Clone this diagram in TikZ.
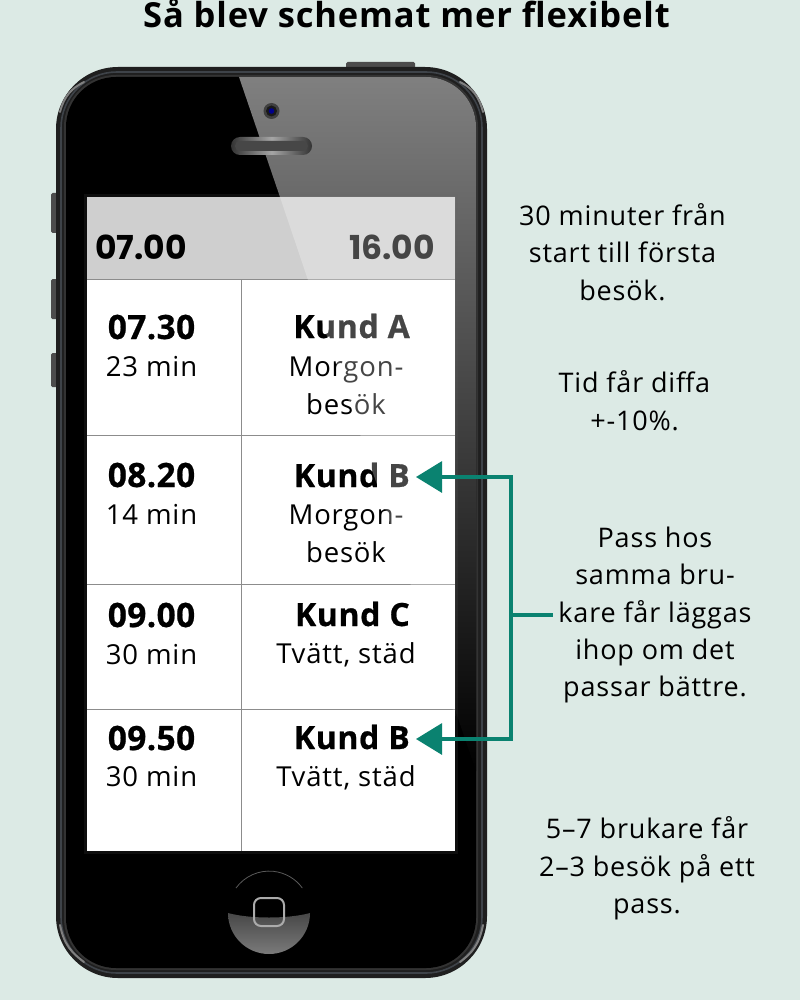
\documentclass[tikz,border=0pt]{standalone}
\usepackage{fontspec}
\setmainfont{Open Sans}
\newfontfamily\headfont{Poppins}
\usetikzlibrary{arrows.meta}
\definecolor{bgc}{HTML}{DCEAE5}
\definecolor{linkc}{HTML}{0A8270}
\definecolor{rimc}{HTML}{3E4349}
\tikzset{
 x=1pt,y=-1pt,
 note/.style={align=center,inner sep=0pt,font=\fontsize{27}{37.4}\selectfont\addfontfeature{LetterSpace=3}},
 cellb/.style={anchor=base,inner sep=0pt,font=\fontsize{33.5}{38}\selectfont\bfseries\addfontfeature{LetterSpace=1,FakeBold=0.6}},
 cellr/.style={align=center,inner sep=0pt,font=\fontsize{27.5}{38}\selectfont\addfontfeature{LetterSpace=3}},
 kund/.style={anchor=base east,inner ysep=0pt,inner xsep=6pt,font=\fontsize{32}{38}\selectfont\bfseries\addfontfeature{LetterSpace=2,FakeBold=0.6}},
 head/.style={anchor=base,inner sep=0pt,font=\fontsize{33}{38}\selectfont\headfont\bfseries},
 rowline/.style={draw=black!45,line width=0.9pt},
 link/.style={draw=linkc,line width=3.2pt},
 tip/.style={-{Triangle[length=26pt,width=31pt]}},
 glint/.style={draw=black!50,line width=2pt,line cap=round},
}
\begin{document}
\begin{tikzpicture}
\useasboundingbox (0,0) rectangle (800,1000);
\fill[bgc] (0,0) rectangle (800,1000);
\node[anchor=base,inner sep=0pt,font=\fontsize{34.5}{40}\selectfont\bfseries\addfontfeature{LetterSpace=2.5}] (title) at (406.5,27.5) {Så blev schemat mer flexibelt};
% side buttons
\fill[black!70,rounded corners=1.5pt] (346,62) rectangle (415,70);
\foreach \a/\b in {193/233,279/319,353/387}{\fill[black!70,rounded corners=1.5pt] (51,\a) rectangle (60,\b);}
% body
\fill[black!88,rounded corners=62pt] (56,67) rectangle (487,978);
\draw[rimc,line width=1.6pt,rounded corners=56pt] (61,72) rectangle (482,973);
\fill[black!80,rounded corners=52pt] (64,75) rectangle (478,970);
\fill[black,rounded corners=50pt] (66,77) rectangle (476,968);
% corner highlights
\draw[glint] (60,112) .. controls (64,96) and (72,88) .. (84,82);
\draw[glint] (483,112) .. controls (479,96) and (472,88) .. (460,82);
\draw[glint] (60,925) .. controls (64,945) and (72,953) .. (84,962);
\draw[glint] (483,925) .. controls (479,945) and (472,953) .. (460,962);
% sheen on the glass
\begin{scope}
\clip[rounded corners=50pt] (66,77) rectangle (476,968);
\shade[top color=black!50,bottom color=black] (239,77) -- (476,77) -- (476,771) -- cycle;
\end{scope}
% camera
\fill[black!75] (271.5,111) circle (8);
\fill[black!90] (271.5,111) circle (5.5);
\fill[blue!55!black] (271.5,111) circle (2.8);
% speaker
\shade[left color=black!80,right color=black!80,middle color=black!35,rounded corners=9pt] (231,137) rectangle (312,155);
\fill[black!72,rounded corners=5pt] (235,141) rectangle (308,151);
% screen
\fill[black!60,opacity=0.14] (84,194) rectangle (458,854);
\fill[white] (87,197) rectangle (455,851);
\fill[black!19] (87,197) rectangle (455,279);
\draw[rowline] (87,279) -- (455,279);
\draw[rowline] (87,435) -- (455,435);
\draw[rowline] (87,584) -- (455,584);
\draw[rowline] (87,709) -- (455,709);
\draw[rowline] (241,279) -- (241,851);
% header
\node[head] (start) at (141,259) {07.00};
\node[head] (stop) at (392,259) {16.00};
% rows
\node[cellb] (t1) at (151.5,339) {07.30};
\node[cellr] (d1) at (151.5,367) {23 min};
\node[kund] (k1) at (416,338) {Kund A};
\node[cellr] (w1) at (346,385.5) {Morgon-\\besök};
\node[cellb] (t2) at (151.5,487) {08.20};
\node[cellr] (d2) at (151.5,514.5) {14 min};
\node[kund] (k2) at (416,487) {Kund B};
\node[cellr] (w2) at (346,533.5) {Morgon-\\besök};
\node[cellb] (t3) at (151.5,627) {09.00};
\node[cellr] (d3) at (151.5,655) {30 min};
\node[kund] (k3) at (416,626) {Kund C};
\node[cellr] (w3) at (346,655) {Tvätt, städ};
\node[cellb] (t4) at (151.5,750) {09.50};
\node[cellr] (d4) at (151.5,777) {30 min};
\node[kund] (k4) at (416,749) {Kund B};
\node[cellr] (w4) at (346,778) {Tvätt, städ};
% sheen over the screen
\fill[white,opacity=0.27] (280,197) -- (455,197) -- (455,716) -- cycle;
% home button
\draw[black!65,line width=0.8pt] (236,888) arc (-144:-36:41);
\shade[top color=black!72,bottom color=black!52] (228,913) .. controls (250,919) and (288,919) .. (310,913) arc (0:180:41) -- cycle;
\draw[black!33,line width=2pt,rounded corners=7pt] (254,898) rectangle (284,926);
% notes
\node[note] (n1) at (622.5,252) {30 minuter från\\start till första\\besök.};
\node[note] (n2) at (634.5,400.5) {Tid får diffa\\+-10\%.};
\node[note] (n3) at (655,615) {Pass hos\\samma bru-\\kare får läggas\\ihop om det\\passar bättre.};
\node[note] (n4) at (647,868.5) {5–7 brukare får\\2–3 besök på ett\\pass.};
% connectors
\coordinate (bus1) at (511,477);
\coordinate (bus2) at (511,739);
\coordinate (busm) at (511,615);
\draw[link,tip] (bus1) -- (k2.east |- bus1);
\draw[link,tip] (bus2) -- (k4.east |- bus2);
\draw[link,line cap=rect] (bus1) -- (bus2);
\draw[link,shorten >=5pt] (busm) -- (n3.west |- busm);
\end{tikzpicture}
\end{document}
